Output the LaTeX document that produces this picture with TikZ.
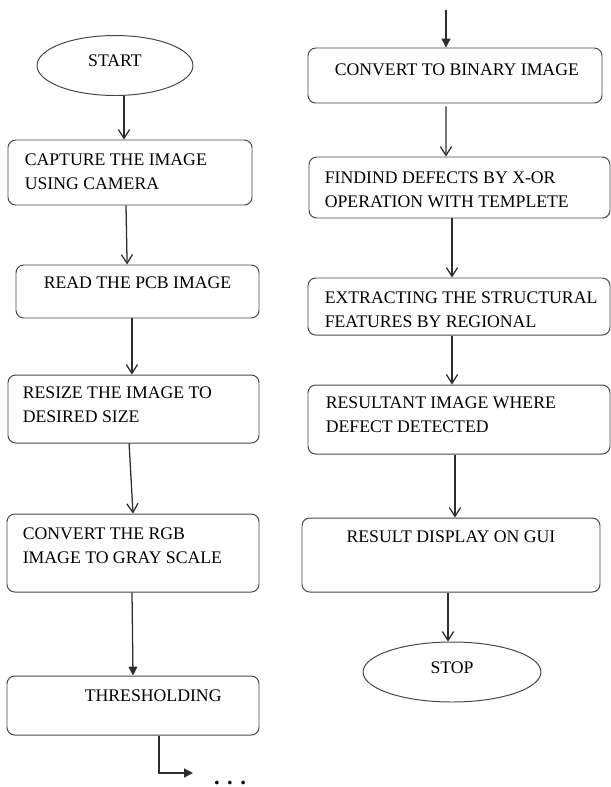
\documentclass[tikz,border=0pt]{standalone}
\usepackage{fontspec}
\setmainfont{Liberation Serif}
\usepackage{xcolor}
\usepackage{tikz}
\usetikzlibrary{arrows.meta,positioning,shapes.geometric}
\definecolor{fcLine}{RGB}{ 45, 45, 45}
\definecolor{fcBox} {RGB}{ 70, 70, 70}

\begin{document}
\begin{tikzpicture}[
  every node/.style={font=\fontsize{12.6}{17}\selectfont},
  >={Straight Barb[length=2.2mm,width=2.8mm]},
  term/.style={draw=fcBox,ellipse,line width=0.7pt,inner sep=0pt,
               text depth=0.22cm,minimum width=3.9cm,minimum height=1.5cm},
  proc/.style={draw=fcBox,line width=0.7pt,rounded corners=5.5pt,inner sep=0pt},
  txt/.style ={inner sep=0pt,align=left},
  arr/.style ={->,line width=0.9pt,fcLine},
  arrf/.style={-{Triangle[length=2.2mm,width=2.2mm]},line width=0.9pt,fcLine}
]
\useasboundingbox (0,0) rectangle (15.275,-19.675);

% left column
\node[term] (S) at (2.875,-1.6375) {START};
\node[proc,minimum width=6.1cm,  minimum height=1.625cm] (B1) at (3.25,  -4.3125) {};
\node[proc,minimum width=6.075cm,minimum height=1.325cm] (B2) at (3.4375,-7.2875) {};
\node[proc,minimum width=6.275cm,minimum height=1.7cm]   (B3) at (3.3375,-10.225) {};
\node[proc,minimum width=6.3cm,  minimum height=1.95cm]  (B4) at (3.325, -13.825) {};
\node[proc,minimum width=6.3cm,  minimum height=1.475cm] (B5) at (3.325, -17.6375) {};

\node[txt,below right=0.35cm and 0.425cm of B1.north west] (B1t) {CAPTURE THE IMAGE\\USING CAMERA};
\node[txt,below=0.3cm of B2.north] (B2t) {READ THE PCB IMAGE};
\node[txt,below right=0.3cm and 0.375cm of B3.north west] (B3t) {RESIZE THE IMAGE TO\\DESIRED SIZE};
\node[txt,below right=0.35cm and 0.4cm of B4.north west] (B4t) {CONVERT THE RGB\\IMAGE TO GRAY SCALE};
\node[txt,below right=0.35cm and 1.95cm of B5.north west] (B5t) {THRESHOLDING};

\coordinate (cont) at (4.825,-19.325);
\node[inner sep=0pt,anchor=base,font=\fontsize{16}{16}\selectfont\bfseries] (more) at (5.75,-19.6) {. . .};

% right column
\coordinate (in) at (11.15,-0.25);
\node[proc,minimum width=7.35cm, minimum height=1.375cm] (C1) at (11.375,-1.8875) {};
\node[proc,minimum width=7.525cm,minimum height=1.525cm] (C2) at (11.4875,-4.6875) {};
\node[proc,minimum width=7.55cm, minimum height=1.425cm] (C3) at (11.475,-7.6625) {};
\node[proc,minimum width=7.55cm, minimum height=1.725cm] (C4) at (11.475,-10.4875) {};
\node[proc,minimum width=7.45cm, minimum height=1.85cm]  (C5) at (11.275,-13.875) {};
\node[term,minimum width=4.45cm] (E) at (11.3,-16.8) {STOP};

\node[txt,below right=0.4cm and 0.675cm of C1.north west] (C1t) {CONVERT TO BINARY IMAGE};
\node[txt,below right=0.375cm and 0.4cm of C2.north west] (C2t) {FINDIND DEFECTS BY X-OR\\OPERATION WITH TEMPLETE};
\node[txt,below right=0.35cm and 0.425cm of C3.north west] (C3t) {EXTRACTING THE STRUCTURAL\\FEATURES BY REGIONAL};
\node[txt,below right=0.3cm and 0.45cm of C4.north west] (C4t) {RESULTANT IMAGE WHERE\\DEFECT DETECTED};
\node[txt,below=0.325cm of C5.north] (C5t) {RESULT DISPLAY ON GUI};

% connectors
\draw[arr] ([xshift=0.225cm]S.south) -- ([xshift=-0.15cm]B1.north);
\draw[arr] ([xshift=-0.1cm]B1.south) -- ([xshift=-0.26cm]B2.north);
\draw[arr] ([xshift=-0.14cm]B2.south) -- ([xshift=-0.04cm]B3.north);
\draw[arr] ([xshift=-0.11cm]B3.south) -- (B4.north);
\draw[arrf] ([xshift=-0.025cm]B4.south) -- (B5.north);
\draw[arrf] ([xshift=0.65cm]B5.south) |- (cont);

\draw[arrf] (in) -- ([xshift=-0.225cm]C1.north);
\draw[arr] ([xshift=-0.225cm,yshift=-0.075cm]C1.south) -- ([xshift=-0.3375cm]C2.north);
\draw[arr] ([xshift=-0.1875cm]C2.south) -- ([xshift=-0.175cm]C3.north);
\draw[arr] ([xshift=-0.175cm]C3.south) -- ([xshift=-0.175cm]C4.north);
\draw[arr] ([xshift=-0.1cm]C4.south) -- ([xshift=0.1cm]C5.north);
\draw[arr] ([xshift=-0.075cm]C5.south) -- ([xshift=-0.1cm]E.north);
\end{tikzpicture}
\end{document}
